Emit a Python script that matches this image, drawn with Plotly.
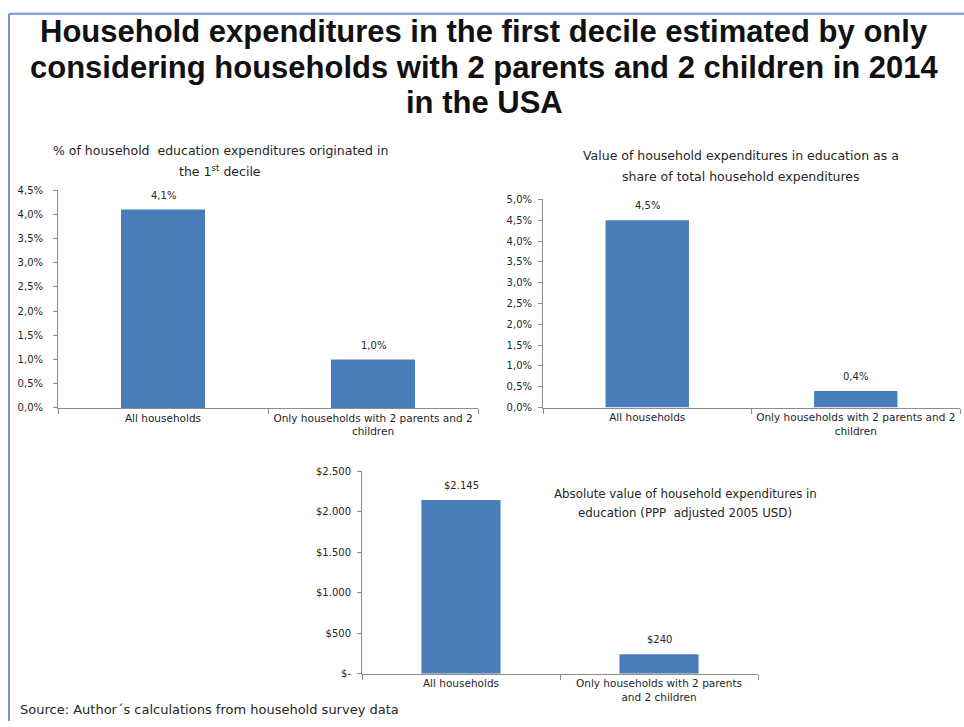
import plotly.graph_objects as go

W, H = 964, 727

# ---- data ----
categories_top = ["All households", "Only households with 2 parents and 2<br>children"]
categories_bottom = ["All households", "Only households with 2 parents<br>and 2 children"]

share_first_decile = [4.1, 1.0]          # % of household education expenditures in 1st decile
share_total_expend = [4.5, 0.4]          # education as % of total household expenditures
absolute_usd = [2145, 240]               # PPP adjusted 2005 USD

pct_ticks_1 = [0, 0.5, 1.0, 1.5, 2.0, 2.5, 3.0, 3.5, 4.0, 4.5]
pct_ticks_2 = [0, 0.5, 1.0, 1.5, 2.0, 2.5, 3.0, 3.5, 4.0, 4.5, 5.0]
usd_ticks = [0, 500, 1000, 1500, 2000, 2500]

main_title = ["Household expenditures in the first decile estimated by only",
              "considering households with 2 parents and 2 children in 2014",
              "in the USA"]
title_1 = ["% of household  education expenditures originated in", "the 1<sup>st</sup> decile"]
title_2 = ["Value of household expenditures in education as a", "share of total household expenditures"]
title_3 = ["Absolute value of household expenditures in", "education (PPP  adjusted 2005 USD)"]
source = "Source: Author´s calculations from household survey data"


def pct_label(v):
    return f"{v:.1f}%".replace(".", ",")


def usd_label(v):
    return "$-" if v == 0 else "$" + f"{v:,}".replace(",", ".")


def px_x(p):
    return p / W


def px_y(p):
    return 1 - p / H


BAR = "#4a7ebb"
AXIS = "#8c8c8c"
TXT = "#262626"
FONT = "DejaVu Sans"

fig = go.Figure()

fig.add_trace(go.Bar(x=categories_top, y=share_first_decile, marker=dict(color=BAR, line=dict(width=0)),
                     xaxis="x", yaxis="y", showlegend=False))
fig.add_trace(go.Bar(x=categories_top, y=share_total_expend, marker=dict(color=BAR, line=dict(width=0)),
                     xaxis="x2", yaxis="y2", showlegend=False))
fig.add_trace(go.Bar(x=categories_bottom, y=absolute_usd, marker=dict(color=BAR, line=dict(width=0)),
                     xaxis="x3", yaxis="y3", showlegend=False))

xcommon = dict(type="category", showline=True, linecolor=AXIS, linewidth=1, ticks="outside",
               tickson="boundaries", ticklen=5, tickcolor=AXIS, showgrid=False, zeroline=False,
               tickfont=dict(family=FONT, size=10.5, color=TXT), fixedrange=True)
ycommon = dict(showline=True, linecolor=AXIS, linewidth=1, ticks="outside", ticklen=4, tickcolor=AXIS,
               showgrid=False, zeroline=False, tickfont=dict(family=FONT, size=10, color=TXT),
               fixedrange=True)

fig.update_layout(
    width=W, height=H,
    margin=dict(l=0, r=0, t=0, b=0),
    paper_bgcolor="white", plot_bgcolor="white",
    bargap=0.6,
    xaxis=dict(xcommon, domain=[px_x(58), px_x(478)], anchor="y"),
    yaxis=dict(ycommon, domain=[px_y(408.7), px_y(187.3)], range=[0, 4.5], anchor="x",
               ticklabelstandoff=8,
               tickvals=pct_ticks_1, ticktext=[pct_label(v) for v in pct_ticks_1]),
    xaxis2=dict(xcommon, domain=[px_x(543), px_x(960)], anchor="y2"),
    yaxis2=dict(ycommon, domain=[px_y(408.3), px_y(196.7)], range=[0, 5.0], anchor="x2",
                ticklabelstandoff=4,
                tickvals=pct_ticks_2, ticktext=[pct_label(v) for v in pct_ticks_2]),
    xaxis3=dict(xcommon, domain=[px_x(362), px_x(758)], anchor="y3"),
    yaxis3=dict(ycommon, domain=[px_y(679), px_y(473)], range=[0, 2500], anchor="x3",
                ticklabelstandoff=4,
                tickvals=usd_ticks, ticktext=[usd_label(v) for v in usd_ticks]),
)

# value labels above bars
annotations = []
for cats, vals, xa, ya, fmt in [
    (categories_top, share_first_decile, "x", "y", pct_label),
    (categories_top, share_total_expend, "x2", "y2", pct_label),
    (categories_bottom, absolute_usd, "x3", "y3", usd_label),
]:
    for c, v in zip(cats, vals):
        annotations.append(dict(x=c, y=v, xref=xa, yref=ya, text=fmt(v), showarrow=False,
                                yanchor="bottom", yshift=7,
                                font=dict(family=FONT, size=10, color=TXT)))


def text_lines(lines, cx, centers, font, anchor="center"):
    """One annotation per line so the line spacing can be set freely."""
    out = []
    for line, cy in zip(lines, centers):
        out.append(dict(x=px_x(cx), y=px_y(cy), xref="paper", yref="paper", xanchor=anchor,
                        yanchor="middle", text=line, showarrow=False, font=font))
    return out


title_font = dict(family="Liberation Sans", size=31, color="#111111", weight="bold")
sub_font = dict(family=FONT, size=12.5, color=TXT)

annotations += text_lines(main_title, 484, [26, 63, 98], title_font)
annotations += text_lines(title_1, 220, [147, 168], sub_font)
annotations += text_lines(title_2, 741, [152, 173], sub_font)
annotations += text_lines(title_3, 685, [496, 516], dict(sub_font, size=11.8))
annotations += text_lines([source], 18, [715], dict(sub_font, size=13), anchor="left")
fig.update_layout(annotations=annotations)

# frame lines along the top and left edges
fig.add_shape(type="line", xref="paper", yref="paper", x0=px_x(9), y0=px_y(8), x1=1, y1=px_y(8),
              line=dict(color="#6f97d9", width=2))
fig.add_shape(type="line", xref="paper", yref="paper", x0=px_x(9), y0=px_y(8), x1=px_x(9), y1=0,
              line=dict(color="#6f97d9", width=2))

fig.write_html("out.html")
